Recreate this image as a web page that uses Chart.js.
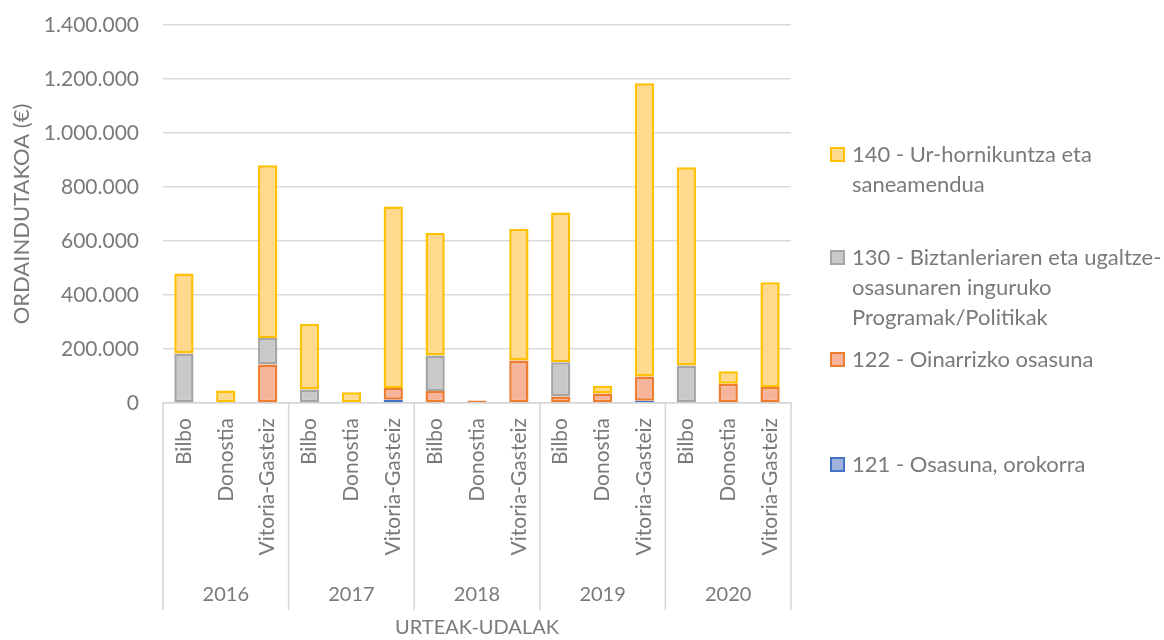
<!DOCTYPE html>
<html>
<head>
<meta charset="utf-8">
<script src="https://cdn.jsdelivr.net/npm/chart.js@4.4.1/dist/chart.umd.min.js"></script>
<style>
  html, body { margin: 0; padding: 0; background: #ffffff; }
  #wrap { position: relative; width: 1164px; height: 640px; font-family: Lato, "Open Sans", sans-serif; }
  #chart { position: absolute; left: 0; top: 0; }
  #legend { position: absolute; left: 830px; top: 0; width: 334px; color: #7a7a7a; font-size: 22px; line-height: 30px; }
  .item { position: absolute; left: 0; display: flex; align-items: flex-start; }
  .swatch { width: 11px; height: 11px; border: 2px solid; margin-top: 8px; margin-right: 7px; flex: none; }
  .text { width: 314px; }
</style>
</head>
<body>
<div id="wrap">
  <canvas id="chart" width="1164" height="640"></canvas>
  <div id="legend"></div>
</div>
<script>
// Municipal health spending by year and city (€)
const years = ['2016', '2017', '2018', '2019', '2020'];
const cities = ['Bilbo', 'Donostia', 'Vitoria-Gasteiz'];
const yTicks = [0, 200000, 400000, 600000, 800000, 1000000, 1200000, 1400000];

const seriesNames = [
  '121 - Osasuna, orokorra',
  '122 - Oinarrizko osasuna',
  '130 - Biztanleriaren eta ugaltze-osasunaren inguruko Programak/Politikak',
  '140 - Ur-hornikuntza eta saneamendua'
];

// one value per city per year: Bilbo, Donostia, Vitoria-Gasteiz for 2016 … 2020
const s121 = [0, 0, 0,        0, 0, 12000,        0, 0, 0,             0, 0, 8000,           0, 0, 0];
const s122 = [0, 3000, 143000, 0, 3000, 44000,    44000, 9000, 157000, 24000, 35000, 90000,  0, 71000, 59000];
const s130 = [183000, 0, 98000, 50000, 0, 0,      132000, 0, 0,        127000, 0, 0,         139000, 0, 0];
const s140 = [297000, 43000, 640000, 243000, 37000, 672000, 454000, 0, 487000, 555000, 28000, 1086000, 734000, 47000, 388000];

const fills   = ['#9fb1dc', '#f6b49a', '#c9c9c9', '#ffd98e'];
const borders = ['#4472c4', '#ed7d31', '#a5a5a5', '#ffc000'];

const labels = [];
years.forEach(() => cities.forEach(c => labels.push(c)));

const textColor = '#7a7a7a';
const family = 'Lato, "Open Sans", sans-serif';
const tickFont = { family, size: 21 };
const catFont = { family, size: 21 };
const tightFont = { family, size: 20, lineHeight: 1 };
const yTitleFont = { family, size: 22, lineHeight: 1 };

const seriesValues = [s121, s122, s130, s140];
const datasets = seriesValues.map((vals, i) => ({
  label: seriesNames[i],
  data: vals,
  backgroundColor: fills[i],
  borderColor: borders[i],
  borderWidth: 2.5,
  borderSkipped: false,
  stack: 'total'
}));

function fmt(v) {
  return String(v).replace(/\B(?=(\d{3})+(?!\d))/g, '.');
}

// vertical separators between the year groups, running through both label rows
const groupLines = {
  id: 'groupLines',
  afterDraw(chart) {
    const xs = chart.scales.x;
    const yr = chart.scales.yr;
    const ctx = chart.ctx;
    const n = cities.length;
    const yEnd = yr.top + 50;
    ctx.save();
    ctx.strokeStyle = '#d6d6d6';
    ctx.lineWidth = 1.5;
    for (let g = 0; g <= years.length; g++) {
      let x;
      if (g === 0) x = xs.left;
      else if (g === years.length) x = xs.right;
      else x = (xs.getPixelForValue(g * n - 1) + xs.getPixelForValue(g * n)) / 2;
      ctx.beginPath();
      ctx.moveTo(x, xs.top);
      ctx.lineTo(x, yEnd);
      ctx.stroke();
    }
    ctx.restore();
  }
};

new Chart(document.getElementById('chart'), {
  type: 'bar',
  data: { labels, datasets },
  options: {
    responsive: false,
    animation: false,
    layout: { padding: { left: 0, right: 373, top: 25, bottom: 0 } },
    datasets: { bar: { categoryPercentage: 1, barPercentage: 0.46 } },
    plugins: { legend: { display: false }, tooltip: { enabled: false } },
    scales: {
      x: {
        stacked: true,
        grid: { display: false, drawTicks: false },
        border: { display: true, color: '#d6d6d6', width: 1.5 },
        ticks: { color: textColor, font: catFont, autoSkip: false, minRotation: 90, maxRotation: 90, padding: 15 },
        afterFit(s) { s.height = 157; }
      },
      yr: {
        type: 'category',
        labels: years,
        position: 'bottom',
        offset: true,
        grid: { display: false, drawTicks: false },
        border: { display: false },
        ticks: { color: textColor, font: tightFont, padding: 25 },
        title: { display: true, text: 'URTEAK-UDALAK', color: textColor, font: tightFont, padding: { top: 13, bottom: 2 } },
        afterFit(s) { s.height = 80; }
      },
      y: {
        stacked: true,
        min: 0,
        max: 1400000,
        afterBuildTicks(scale) { scale.ticks = yTicks.map(v => ({ value: v })); },
        grid: { color: '#d9d9d9', lineWidth: 1.5, drawTicks: true, tickLength: 24, tickColor: 'rgba(0,0,0,0)' },
        border: { display: false },
        ticks: { color: textColor, font: tickFont, padding: 0, callback: v => fmt(v) },
        title: { display: true, text: 'ORDAINDUTAKOA (€)', color: textColor, font: yTitleFont, padding: { top: 11, bottom: 0 } },
        afterFit(s) { s.width = 163; }
      }
    }
  },
  plugins: [groupLines]
});

// legend, listed top to bottom in reverse stacking order
const legendTops = [449, 344, 242, 139];
const legend = document.getElementById('legend');
for (let i = seriesNames.length - 1; i >= 0; i--) {
  const item = document.createElement('div');
  item.className = 'item';
  item.style.top = legendTops[i] + 'px';
  const sw = document.createElement('div');
  sw.className = 'swatch';
  sw.style.background = fills[i];
  sw.style.borderColor = borders[i];
  const tx = document.createElement('div');
  tx.className = 'text';
  tx.textContent = seriesNames[i];
  item.appendChild(sw);
  item.appendChild(tx);
  legend.appendChild(item);
}
</script>
</body>
</html>
